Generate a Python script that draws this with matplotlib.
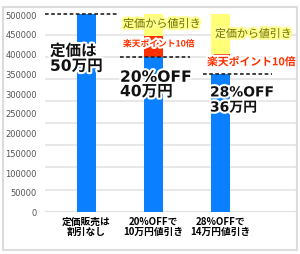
import matplotlib
matplotlib.use("Agg")
import matplotlib.pyplot as plt
import matplotlib.patheffects as pe
from matplotlib.patches import Rectangle

plt.rcParams['font.family'] = ['DejaVu Sans', 'Noto Sans CJK JP']

# ---- data ----
categories = ['定価販売は\n割引なし', '20%OFFで\n10万円値引き', '28%OFFで\n14万円値引き']
price = [500000, 390000, 347000]          # blue: price actually paid
point_low = [0, 390000, 390000]           # red segment (楽天ポイント10倍)
point_high = [0, 445000, 400000]
list_price = [500000, 500000, 500000]     # yellow segment top (定価から値引き)
big_labels = ['定価は\n50万円', '20%OFF\n40万円', '28%OFF\n36万円']
yticks = [0, 50000, 100000, 150000, 200000, 250000, 300000, 350000, 400000, 450000, 500000]
grid_vals = [56000 * k for k in range(1, 9)]

blue = '#0a7fff'
red = '#ff3000'
yellow = '#ffff78'

fig = plt.figure(figsize=(3.0, 2.55), dpi=100)
# outer frame
fig.patches.append(Rectangle((3 / 300, 4 / 255), 294 / 300, 243 / 255, transform=fig.transFigure,
                             fill=False, edgecolor='#dcdcdc', lw=1.5))
ax = fig.add_axes([45 / 300, 42.3 / 255, 251 / 300, 0.7908])

x = list(range(len(categories)))
w = 0.276
for g in grid_vals:
    ax.axhline(g, color='#e8e8e8', lw=1.5, zorder=0)
ax.axhline(0, color='#e0e0e0', lw=1.5, zorder=0)

ax.bar(x, price, width=w, color=blue, zorder=2)
ax.bar(x, [h - l for h, l in zip(point_high, point_low)], bottom=point_low, width=w, color=red, zorder=2)
ax.bar(x, [t - h if h > 0 else 0 for t, h in zip(list_price, point_high)], bottom=point_high,
       width=w, color=yellow, zorder=2)

ax.set_xlim(-0.617, 3.126)
ax.set_ylim(0, 510000)
ax.set_yticks(yticks)
ax.set_yticklabels([str(v) for v in yticks], fontsize=6, color='#555555')
ax.set_xticks(x)
ax.set_xticklabels(categories, fontsize=7, fontweight='bold', family=['Noto Sans CJK JP'],
                   linespacing=1.0)
ax.tick_params(axis='both', length=0)
ax.tick_params(axis='y', pad=6)
ax.tick_params(axis='x', pad=3)
for s in ax.spines.values():
    s.set_visible(False)

# dashed price lines
dash_spans = [(-0.617, 0.456), (0.501, 1.545), (1.739, 2.767)]
for (x0, x1), p in zip(dash_spans, price):
    ax.plot([x0, x1], [p, p], color='#222222', lw=1.2, ls=(0, (2.2, 1.5)), zorder=4)

white = [pe.withStroke(linewidth=3, foreground='white')]
# big labels
big_pos = [(-0.543, 386800, 11.2, 1.0), (0.501, 321700, 11.2, 0.95), (1.843, 282500, 10, 1.1)]
for lab, (tx, ty, fs, ls) in zip(big_labels, big_pos):
    ax.text(tx, ty, lab, fontsize=fs, fontweight='bold', ha='left', va='center',
            linespacing=ls, color='#111111', path_effects=white, zorder=5)

ylw = [pe.withStroke(linewidth=3, foreground='#ffff90')]
ax.text(0.546, 474700, '定価から値引き', fontsize=8, ha='left', va='center', color='#6e6e00',
        family=['Noto Sans CJK JP'], path_effects=ylw, zorder=5)
ax.text(1.918, 449400, '定価から値引き', fontsize=7.9, ha='left', va='center', color='#6e6e00',
        family=['Noto Sans CJK JP'], path_effects=ylw, zorder=5)
ax.text(0.546, 424100, '楽天ポイント10倍', fontsize=6.3, fontweight='bold', ha='left', va='center',
        color=red, family=['Noto Sans CJK JP'], path_effects=white, zorder=5)
ax.text(1.799, 377900, '楽天ポイント10倍', fontsize=7.8, fontweight='bold', ha='left', va='center',
        color=red, family=['Noto Sans CJK JP'], path_effects=white, zorder=5)

fig.savefig('out.png', dpi=100)
